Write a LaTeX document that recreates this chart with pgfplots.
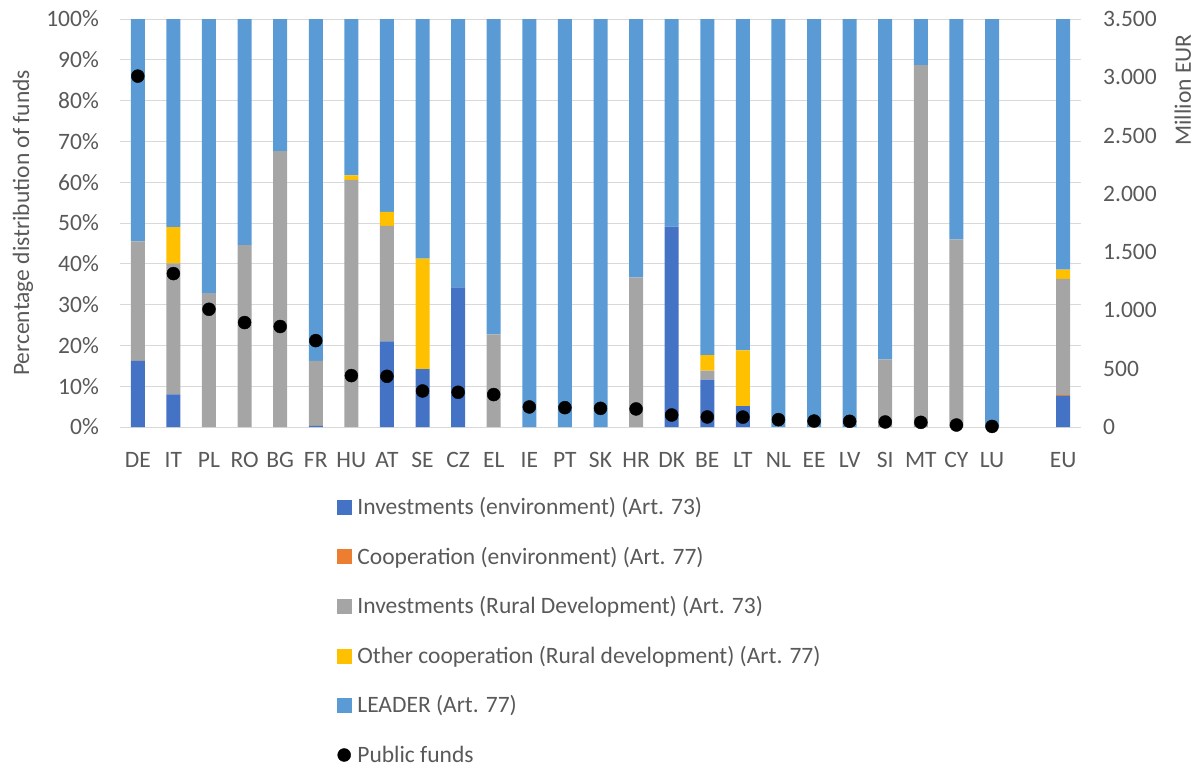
\documentclass[border=0pt]{standalone}
\usepackage{fontspec}
\setmainfont{Carlito}
\usepackage{pgfplots}
\usepackage{pgfplotstable}
\pgfplotsset{compat=1.18}

\definecolor{envblue}{HTML}{4472C4}
\definecolor{coopor}{HTML}{ED7D31}
\definecolor{rdgray}{HTML}{A5A5A5}
\definecolor{othyel}{HTML}{FFC000}
\definecolor{leadblue}{HTML}{5B9BD5}
\definecolor{gridgray}{HTML}{D9D9D9}
\definecolor{txtgray}{HTML}{595959}

% shares of funds by measure (%) and public funds (million EUR)
\pgfplotstableread{
x  env  coopenv rd   othcoop leader funds
0  16.2 0   29.3 0    54.5  3010
1  8.0  0   32.1 8.9  51.0  1316
2  0    0   32.8 0    67.2  1010
3  0    0   44.6 0    55.4  896
4  0    0   67.6 0    32.4  862
5  0.3  0   15.9 0    83.8  741
6  0    0   60.6 1.1  38.3  441
7  21.0 0   28.3 3.4  47.3  435
8  14.2 0   0    27.1 58.7  309
9  34.2 0   0    0    65.8  298
10 0    0   22.7 0    77.3  278
11 0    0   0    0    100   172
12 0    0   0    0    100   166
13 0    0   0    0    100   160
14 0    0   36.7 0    63.3  155
15 49.1 0   0    0    50.9  103
16 11.6 0   2.2  3.8  82.4  86
17 5.1  0   0    13.7 81.2  85
18 0    0   0    0    100   63
19 0    0   0    0    100   51
20 0    0   0    0    100   49
21 0    0   16.6 0    83.4  43
22 0    0   88.7 0    11.3  40
23 0    0   46.0 0    54.0  17
24 0    0   0    0    100   5
26 7.6  0.2 28.5 2.3  61.4  nan
}\shares

\newcommand{\chartfont}{\fontsize{23.5}{28}\selectfont}

\begin{document}
\begin{tikzpicture}
\path[use as bounding box] (-120pt,-342pt) rectangle (1083pt,427pt);

\begin{axis}[
  scale only axis, width=961pt, height=408pt,
  ybar stacked, bar width=14pt,
  xmin=-0.5, xmax=26.5, ymin=0, ymax=100,
  xtick={0,...,24,26},
  xticklabels={DE,IT,PL,RO,BG,FR,HU,AT,SE,CZ,EL,IE,PT,SK,HR,DK,BE,LT,NL,EE,LV,SI,MT,CY,LU,EU},
  ytick={0,10,...,100},
  yticklabels={0\%,10\%,20\%,30\%,40\%,50\%,60\%,70\%,80\%,90\%,100\%},
  ymajorgrids, grid style={draw=gridgray, line width=1pt},
  axis line style={draw=none}, major tick length=0pt,
  tick label style={font=\chartfont, text=txtgray},
  xticklabel style={anchor=north, inner sep=0pt, yshift=-25pt},
  yticklabel style={anchor=east, inner sep=0pt, xshift=-21pt},
  ylabel={Percentage distribution of funds},
  ylabel style={font=\chartfont, text=txtgray, at={(axis description cs:-0.101,0.5)}, anchor=center},
  legend cell align=left,
  legend style={draw=none, fill=none, inner xsep=0pt, inner ysep=0pt, outer sep=0pt,
    at={(axis description cs:0.2258,-0.1679)}, anchor=north west,
    row sep=26.6pt, column sep=6pt,
    font=\chartfont, text=txtgray,
    nodes={inner sep=0pt, text height=19pt, text depth=4pt}},
]
\addlegendimage{legend image code/.code={\fill[envblue] (0pt,-7pt) rectangle (14pt,7pt);}}
\addlegendentry{Investments (environment) (Art. 73)}
\addlegendimage{legend image code/.code={\fill[coopor] (0pt,-7pt) rectangle (14pt,7pt);}}
\addlegendentry{Cooperation (environment) (Art. 77)}
\addlegendimage{legend image code/.code={\fill[rdgray] (0pt,-7pt) rectangle (14pt,7pt);}}
\addlegendentry{Investments (Rural Development) (Art. 73)}
\addlegendimage{legend image code/.code={\fill[othyel] (0pt,-7pt) rectangle (14pt,7pt);}}
\addlegendentry{Other cooperation (Rural development) (Art. 77)}
\addlegendimage{legend image code/.code={\fill[leadblue] (0pt,-7pt) rectangle (14pt,7pt);}}
\addlegendentry{LEADER (Art. 77)}
\addlegendimage{legend image code/.code={\fill[black] (7pt,0pt) circle (6.5pt);}}
\addlegendentry{Public funds}

\addplot[fill=envblue, draw=none] table[x=x, y=env] {\shares};
\addplot[fill=coopor, draw=none] table[x=x, y=coopenv] {\shares};
\addplot[fill=rdgray, draw=none] table[x=x, y=rd] {\shares};
\addplot[fill=othyel, draw=none] table[x=x, y=othcoop] {\shares};
\addplot[fill=leadblue, draw=none] table[x=x, y=leader] {\shares};
\end{axis}

\begin{axis}[
  scale only axis, width=961pt, height=408pt,
  xmin=-0.5, xmax=26.5, ymin=0, ymax=3500,
  axis x line=none, axis y line*=right,
  axis line style={draw=none}, major tick length=0pt,
  ytick={0,500,...,3500},
  yticklabels={0,500,1.000,1.500,2.000,2.500,3.000,3.500},
  tick label style={font=\chartfont, text=txtgray},
  yticklabel style={anchor=west, inner sep=0pt, xshift=22pt},
  ylabel={Million EUR},
  ylabel style={font=\chartfont, text=txtgray, at={(axis description cs:1.106,0.826)}, anchor=center, rotate=0},
]
\addplot[only marks, mark=*, mark size=6.5pt, black] table[x=x, y=funds] {\shares};
\end{axis}
\end{tikzpicture}
\end{document}
